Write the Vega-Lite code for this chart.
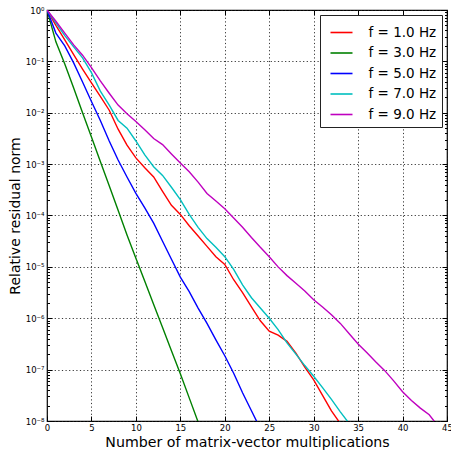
{
  "$schema": "https://vega.github.io/schema/vega-lite/v6.json",
  "width": 400,
  "height": 411,
  "autosize": "none",
  "padding": {"left": 47, "top": 10, "right": 4, "bottom": 32},
  "config": {
    "font": "DejaVu Sans",
    "view": {"stroke": "#000", "strokeWidth": 1.2},
    "axis": {"domain": false, "labelColor": "#000", "titleColor": "#000", "tickColor": "#000", "labelFont": "DejaVu Sans", "titleFont": "DejaVu Sans", "titleFontWeight": "normal"}
  },
  "data": {"values": [
    {"f": "f = 1.0 Hz", "n": 0, "r": 1},
    {"f": "f = 1.0 Hz", "n": 1, "r": 0.501},
    {"f": "f = 1.0 Hz", "n": 2, "r": 0.263},
    {"f": "f = 1.0 Hz", "n": 3, "r": 0.135},
    {"f": "f = 1.0 Hz", "n": 4, "r": 7.08e-2},
    {"f": "f = 1.0 Hz", "n": 5, "r": 3.80e-2},
    {"f": "f = 1.0 Hz", "n": 6, "r": 2.09e-2},
    {"f": "f = 1.0 Hz", "n": 7, "r": 1.12e-2},
    {"f": "f = 1.0 Hz", "n": 8, "r": 4.79e-3},
    {"f": "f = 1.0 Hz", "n": 9, "r": 2.34e-3},
    {"f": "f = 1.0 Hz", "n": 10, "r": 1.32e-3},
    {"f": "f = 1.0 Hz", "n": 11, "r": 8.51e-4},
    {"f": "f = 1.0 Hz", "n": 12, "r": 5.62e-4},
    {"f": "f = 1.0 Hz", "n": 13, "r": 2.95e-4},
    {"f": "f = 1.0 Hz", "n": 14, "r": 1.58e-4},
    {"f": "f = 1.0 Hz", "n": 15, "r": 1.05e-4},
    {"f": "f = 1.0 Hz", "n": 16, "r": 6.31e-5},
    {"f": "f = 1.0 Hz", "n": 17, "r": 3.98e-5},
    {"f": "f = 1.0 Hz", "n": 18, "r": 2.51e-5},
    {"f": "f = 1.0 Hz", "n": 19, "r": 1.58e-5},
    {"f": "f = 1.0 Hz", "n": 20, "r": 1.12e-5},
    {"f": "f = 1.0 Hz", "n": 21, "r": 5.62e-6},
    {"f": "f = 1.0 Hz", "n": 22, "r": 3.16e-6},
    {"f": "f = 1.0 Hz", "n": 23, "r": 1.66e-6},
    {"f": "f = 1.0 Hz", "n": 24, "r": 8.91e-7},
    {"f": "f = 1.0 Hz", "n": 25, "r": 5.62e-7},
    {"f": "f = 1.0 Hz", "n": 26, "r": 4.68e-7},
    {"f": "f = 1.0 Hz", "n": 27, "r": 3.55e-7},
    {"f": "f = 1.0 Hz", "n": 28, "r": 2.09e-7},
    {"f": "f = 1.0 Hz", "n": 29, "r": 1.12e-7},
    {"f": "f = 1.0 Hz", "n": 30, "r": 6.31e-8},
    {"f": "f = 1.0 Hz", "n": 31, "r": 3.16e-8},
    {"f": "f = 1.0 Hz", "n": 32, "r": 1.58e-8},
    {"f": "f = 1.0 Hz", "n": 33, "r": 8.91e-9},
    {"f": "f = 3.0 Hz", "n": 0, "r": 1},
    {"f": "f = 3.0 Hz", "n": 1, "r": 0.240},
    {"f": "f = 3.0 Hz", "n": 2, "r": 8.91e-2},
    {"f": "f = 3.0 Hz", "n": 3, "r": 3.02e-2},
    {"f": "f = 3.0 Hz", "n": 4, "r": 1.0e-2},
    {"f": "f = 3.0 Hz", "n": 5, "r": 3.39e-3},
    {"f": "f = 3.0 Hz", "n": 6, "r": 1.12e-3},
    {"f": "f = 3.0 Hz", "n": 7, "r": 3.80e-4},
    {"f": "f = 3.0 Hz", "n": 8, "r": 1.26e-4},
    {"f": "f = 3.0 Hz", "n": 9, "r": 4.17e-5},
    {"f": "f = 3.0 Hz", "n": 10, "r": 1.48e-5},
    {"f": "f = 3.0 Hz", "n": 11, "r": 5.25e-6},
    {"f": "f = 3.0 Hz", "n": 12, "r": 1.86e-6},
    {"f": "f = 3.0 Hz", "n": 13, "r": 6.61e-7},
    {"f": "f = 3.0 Hz", "n": 14, "r": 2.34e-7},
    {"f": "f = 3.0 Hz", "n": 15, "r": 8.32e-8},
    {"f": "f = 3.0 Hz", "n": 16, "r": 2.82e-8},
    {"f": "f = 3.0 Hz", "n": 17, "r": 9.55e-9},
    {"f": "f = 5.0 Hz", "n": 0, "r": 1},
    {"f": "f = 5.0 Hz", "n": 1, "r": 0.355},
    {"f": "f = 5.0 Hz", "n": 2, "r": 0.200},
    {"f": "f = 5.0 Hz", "n": 3, "r": 9.33e-2},
    {"f": "f = 5.0 Hz", "n": 4, "r": 3.98e-2},
    {"f": "f = 5.0 Hz", "n": 5, "r": 1.66e-2},
    {"f": "f = 5.0 Hz", "n": 6, "r": 7.08e-3},
    {"f": "f = 5.0 Hz", "n": 7, "r": 2.82e-3},
    {"f": "f = 5.0 Hz", "n": 8, "r": 1.20e-3},
    {"f": "f = 5.0 Hz", "n": 9, "r": 5.62e-4},
    {"f": "f = 5.0 Hz", "n": 10, "r": 2.69e-4},
    {"f": "f = 5.0 Hz", "n": 11, "r": 1.41e-4},
    {"f": "f = 5.0 Hz", "n": 12, "r": 7.08e-5},
    {"f": "f = 5.0 Hz", "n": 13, "r": 3.16e-5},
    {"f": "f = 5.0 Hz", "n": 14, "r": 1.41e-5},
    {"f": "f = 5.0 Hz", "n": 15, "r": 6.31e-6},
    {"f": "f = 5.0 Hz", "n": 16, "r": 3.31e-6},
    {"f": "f = 5.0 Hz", "n": 17, "r": 1.58e-6},
    {"f": "f = 5.0 Hz", "n": 18, "r": 7.94e-7},
    {"f": "f = 5.0 Hz", "n": 19, "r": 3.80e-7},
    {"f": "f = 5.0 Hz", "n": 20, "r": 1.86e-7},
    {"f": "f = 5.0 Hz", "n": 21, "r": 8.51e-8},
    {"f": "f = 5.0 Hz", "n": 22, "r": 3.55e-8},
    {"f": "f = 5.0 Hz", "n": 23, "r": 1.58e-8},
    {"f": "f = 5.0 Hz", "n": 24, "r": 7.08e-9},
    {"f": "f = 7.0 Hz", "n": 0, "r": 1},
    {"f": "f = 7.0 Hz", "n": 1, "r": 0.562},
    {"f": "f = 7.0 Hz", "n": 2, "r": 0.316},
    {"f": "f = 7.0 Hz", "n": 3, "r": 0.191},
    {"f": "f = 7.0 Hz", "n": 4, "r": 0.117},
    {"f": "f = 7.0 Hz", "n": 5, "r": 6.03e-2},
    {"f": "f = 7.0 Hz", "n": 6, "r": 2.63e-2},
    {"f": "f = 7.0 Hz", "n": 7, "r": 1.41e-2},
    {"f": "f = 7.0 Hz", "n": 8, "r": 7.08e-3},
    {"f": "f = 7.0 Hz", "n": 9, "r": 5.01e-3},
    {"f": "f = 7.0 Hz", "n": 10, "r": 2.82e-3},
    {"f": "f = 7.0 Hz", "n": 11, "r": 1.51e-3},
    {"f": "f = 7.0 Hz", "n": 12, "r": 8.91e-4},
    {"f": "f = 7.0 Hz", "n": 13, "r": 6.03e-4},
    {"f": "f = 7.0 Hz", "n": 14, "r": 3.55e-4},
    {"f": "f = 7.0 Hz", "n": 15, "r": 2.04e-4},
    {"f": "f = 7.0 Hz", "n": 16, "r": 1.05e-4},
    {"f": "f = 7.0 Hz", "n": 17, "r": 5.89e-5},
    {"f": "f = 7.0 Hz", "n": 18, "r": 3.55e-5},
    {"f": "f = 7.0 Hz", "n": 19, "r": 2.40e-5},
    {"f": "f = 7.0 Hz", "n": 20, "r": 1.58e-5},
    {"f": "f = 7.0 Hz", "n": 21, "r": 8.91e-6},
    {"f": "f = 7.0 Hz", "n": 22, "r": 4.47e-6},
    {"f": "f = 7.0 Hz", "n": 23, "r": 2.51e-6},
    {"f": "f = 7.0 Hz", "n": 24, "r": 1.58e-6},
    {"f": "f = 7.0 Hz", "n": 25, "r": 1.0e-6},
    {"f": "f = 7.0 Hz", "n": 26, "r": 6.03e-7},
    {"f": "f = 7.0 Hz", "n": 27, "r": 3.31e-7},
    {"f": "f = 7.0 Hz", "n": 28, "r": 2.0e-7},
    {"f": "f = 7.0 Hz", "n": 29, "r": 1.20e-7},
    {"f": "f = 7.0 Hz", "n": 30, "r": 7.41e-8},
    {"f": "f = 7.0 Hz", "n": 31, "r": 4.47e-8},
    {"f": "f = 7.0 Hz", "n": 32, "r": 2.63e-8},
    {"f": "f = 7.0 Hz", "n": 33, "r": 1.51e-8},
    {"f": "f = 7.0 Hz", "n": 34, "r": 8.91e-9},
    {"f": "f = 9.0 Hz", "n": 0, "r": 1},
    {"f": "f = 9.0 Hz", "n": 1, "r": 0.603},
    {"f": "f = 9.0 Hz", "n": 2, "r": 0.355},
    {"f": "f = 9.0 Hz", "n": 3, "r": 0.209},
    {"f": "f = 9.0 Hz", "n": 4, "r": 0.132},
    {"f": "f = 9.0 Hz", "n": 5, "r": 7.59e-2},
    {"f": "f = 9.0 Hz", "n": 6, "r": 4.17e-2},
    {"f": "f = 9.0 Hz", "n": 7, "r": 2.40e-2},
    {"f": "f = 9.0 Hz", "n": 8, "r": 1.41e-2},
    {"f": "f = 9.0 Hz", "n": 9, "r": 9.55e-3},
    {"f": "f = 9.0 Hz", "n": 10, "r": 6.76e-3},
    {"f": "f = 9.0 Hz", "n": 11, "r": 4.68e-3},
    {"f": "f = 9.0 Hz", "n": 12, "r": 3.16e-3},
    {"f": "f = 9.0 Hz", "n": 13, "r": 2.40e-3},
    {"f": "f = 9.0 Hz", "n": 14, "r": 1.58e-3},
    {"f": "f = 9.0 Hz", "n": 15, "r": 1.05e-3},
    {"f": "f = 9.0 Hz", "n": 16, "r": 7.08e-4},
    {"f": "f = 9.0 Hz", "n": 17, "r": 4.47e-4},
    {"f": "f = 9.0 Hz", "n": 18, "r": 2.69e-4},
    {"f": "f = 9.0 Hz", "n": 19, "r": 1.91e-4},
    {"f": "f = 9.0 Hz", "n": 20, "r": 1.35e-4},
    {"f": "f = 9.0 Hz", "n": 21, "r": 8.91e-5},
    {"f": "f = 9.0 Hz", "n": 22, "r": 5.89e-5},
    {"f": "f = 9.0 Hz", "n": 23, "r": 3.72e-5},
    {"f": "f = 9.0 Hz", "n": 24, "r": 2.40e-5},
    {"f": "f = 9.0 Hz", "n": 25, "r": 1.58e-5},
    {"f": "f = 9.0 Hz", "n": 26, "r": 1.0e-5},
    {"f": "f = 9.0 Hz", "n": 27, "r": 6.76e-6},
    {"f": "f = 9.0 Hz", "n": 28, "r": 4.79e-6},
    {"f": "f = 9.0 Hz", "n": 29, "r": 3.39e-6},
    {"f": "f = 9.0 Hz", "n": 30, "r": 2.29e-6},
    {"f": "f = 9.0 Hz", "n": 31, "r": 1.66e-6},
    {"f": "f = 9.0 Hz", "n": 32, "r": 1.17e-6},
    {"f": "f = 9.0 Hz", "n": 33, "r": 7.94e-7},
    {"f": "f = 9.0 Hz", "n": 34, "r": 5.01e-7},
    {"f": "f = 9.0 Hz", "n": 35, "r": 3.16e-7},
    {"f": "f = 9.0 Hz", "n": 36, "r": 2.14e-7},
    {"f": "f = 9.0 Hz", "n": 37, "r": 1.41e-7},
    {"f": "f = 9.0 Hz", "n": 38, "r": 9.55e-8},
    {"f": "f = 9.0 Hz", "n": 39, "r": 6.03e-8},
    {"f": "f = 9.0 Hz", "n": 40, "r": 3.72e-8},
    {"f": "f = 9.0 Hz", "n": 41, "r": 2.51e-8},
    {"f": "f = 9.0 Hz", "n": 42, "r": 1.78e-8},
    {"f": "f = 9.0 Hz", "n": 43, "r": 1.32e-8},
    {"f": "f = 9.0 Hz", "n": 44, "r": 7.94e-9}
  ]},
  "resolve": {"axis": {"x": "independent", "y": "independent"}},
  "layer": [
    {
      "mark": {"type": "line", "clip": true, "strokeWidth": 1.4},
      "encoding": {
        "x": {"field": "n", "type": "quantitative",
          "scale": {"domain": [0, 45], "nice": false, "zero": false},
          "axis": {"orient": "bottom", "title": "Number of matrix-vector multiplications", "titleFontSize": 14.2, "titlePadding": 3, "values": [0,5,10,15,20,25,30,35,40,45], "labelFontSize": 8.5, "tickSize": -5, "labelPadding": 7.5, "grid": true, "gridColor": "#222", "gridDash": [1.2, 2.4], "gridWidth": 0.9, "labelFlush": false}},
        "y": {"field": "r", "type": "quantitative",
          "scale": {"type": "log", "domain": [1e-8, 1], "nice": false},
          "axis": {"orient": "left", "title": "Relative residual norm", "titleFontSize": 14, "titlePadding": 3, "values": [1e-8,1e-7,1e-6,1e-5,1e-4,1e-3,1e-2,1e-1,1], "labelFontSize": 8.5, "tickSize": -5, "labelPadding": 8, "grid": true, "gridColor": "#222", "gridDash": [1.2, 2.4], "gridWidth": 0.9,
            "labelExpr": "'10' + (datum.value < 0.5 ? '⁻' : '') + substring('⁰¹²³⁴⁵⁶⁷⁸', round(-log(datum.value)/LN10), round(-log(datum.value)/LN10) + 1)"}},
        "color": {"field": "f", "type": "nominal",
          "scale": {"domain": ["f = 1.0 Hz", "f = 3.0 Hz", "f = 5.0 Hz", "f = 7.0 Hz", "f = 9.0 Hz"], "range": ["#ff0000", "#008000", "#0000ff", "#00bfbf", "#bf00bf"]},
          "legend": {"title": null, "orient": "top-right", "offset": 5, "symbolType": "stroke", "symbolSize": 484, "symbolStrokeWidth": 1.6, "symbolOffset": 4, "labelFontSize": 13.5, "labelOffset": 15, "labelColor": "#000", "rowPadding": 1.5, "padding": 5.5, "strokeColor": "#222", "fillColor": "#fff", "cornerRadius": 0}}
      }
    },
    {
      "mark": {"type": "point", "opacity": 0},
      "encoding": {
        "x": {"field": "n", "type": "quantitative", "axis": {"orient": "top", "title": null, "labels": false, "values": [0,5,10,15,20,25,30,35,40,45], "tickSize": -5, "grid": false}},
        "y": {"field": "r", "type": "quantitative", "axis": {"orient": "right", "title": null, "labels": false, "values": [1e-8,1e-7,1e-6,1e-5,1e-4,1e-3,1e-2,1e-1,1], "tickSize": -5, "grid": false}}
      }
    },
    {
      "mark": {"type": "point", "opacity": 0},
      "encoding": {
        "x": {"field": "n", "type": "quantitative", "axis": null},
        "y": {"field": "r", "type": "quantitative", "axis": {"orient": "left", "title": null, "labels": false, "grid": false, "tickSize": -2.5,
          "values": [2e-8,3e-8,4e-8,5e-8,6e-8,7e-8,8e-8,9e-8,2e-7,3e-7,4e-7,5e-7,6e-7,7e-7,8e-7,9e-7,2e-6,3e-6,4e-6,5e-6,6e-6,7e-6,8e-6,9e-6,2e-5,3e-5,4e-5,5e-5,6e-5,7e-5,8e-5,9e-5,2e-4,3e-4,4e-4,5e-4,6e-4,7e-4,8e-4,9e-4,2e-3,3e-3,4e-3,5e-3,6e-3,7e-3,8e-3,9e-3,2e-2,3e-2,4e-2,5e-2,6e-2,7e-2,8e-2,9e-2,0.2,0.3,0.4,0.5,0.6,0.7,0.8,0.9]}}
      }
    },
    {
      "mark": {"type": "point", "opacity": 0},
      "encoding": {
        "x": {"field": "n", "type": "quantitative", "axis": null},
        "y": {"field": "r", "type": "quantitative", "axis": {"orient": "right", "title": null, "labels": false, "grid": false, "tickSize": -2.5,
          "values": [2e-8,3e-8,4e-8,5e-8,6e-8,7e-8,8e-8,9e-8,2e-7,3e-7,4e-7,5e-7,6e-7,7e-7,8e-7,9e-7,2e-6,3e-6,4e-6,5e-6,6e-6,7e-6,8e-6,9e-6,2e-5,3e-5,4e-5,5e-5,6e-5,7e-5,8e-5,9e-5,2e-4,3e-4,4e-4,5e-4,6e-4,7e-4,8e-4,9e-4,2e-3,3e-3,4e-3,5e-3,6e-3,7e-3,8e-3,9e-3,2e-2,3e-2,4e-2,5e-2,6e-2,7e-2,8e-2,9e-2,0.2,0.3,0.4,0.5,0.6,0.7,0.8,0.9]}}
      }
    }
  ]
}
